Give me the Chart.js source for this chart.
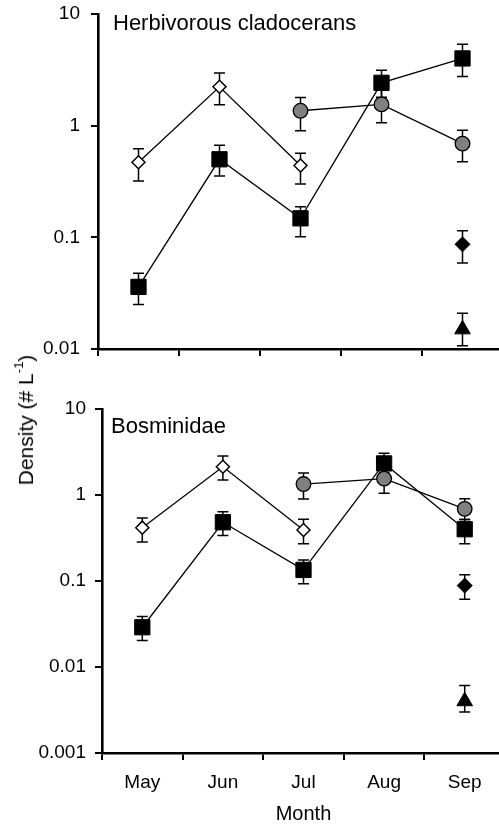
<!DOCTYPE html>
<html><head><meta charset="utf-8">
<script src="https://cdn.jsdelivr.net/npm/chart.js@4/dist/chart.umd.min.js"></script>
<style>
html,body{margin:0;padding:0;background:#fff;overflow:hidden;width:499px;height:826px;position:relative;}
#cA{position:absolute;left:0;top:0;}
#cB{position:absolute;left:0;top:380px;}
#ytitle{position:absolute;left:26px;top:420px;transform:translate(-50%,-50%) rotate(-90deg);font:21px "Liberation Sans",Arial,sans-serif;white-space:nowrap;color:#000;}
#ytitle sup{font-size:13px;position:relative;top:-2px;vertical-align:top;line-height:1;}
</style></head>
<body>
<canvas id="cA" width="503" height="380"></canvas>
<canvas id="cB" width="505" height="446"></canvas>
<div id="ytitle">Density (# L<sup>-1</sup>)</div>
<script>
const months = ['May','Jun','Jul','Aug','Sep'];
const panelTitleTop = 'Herbivorous cladocerans';
const panelTitleBottom = 'Bosminidae';
const xTitle = 'Month';
const yTicksTop = [0.01, 0.1, 1, 10];
const yLabelsTop = ['0.01', '0.1', '1', '10'];
const yTicksBottom = [0.001, 0.01, 0.1, 1, 10];
const yLabelsBottom = ['0.001', '0.01', '0.1', '1', '10'];

// Herbivorous cladocerans
const herbOpen = [0.47, 2.23, 0.44, null, null];
const herbOpenLo = [0.32, 1.54, 0.30, null, null];
const herbOpenHi = [0.62, 2.96, 0.565, null, null];
const herbSquare = [0.036, 0.50, 0.148, 2.42, 4.0];
const herbSquareLo = [0.025, 0.354, 0.101, 1.8, 2.76];
const herbSquareHi = [0.0476, 0.667, 0.188, 3.13, 5.35];
const herbCircle = [null, null, 1.36, 1.55, 0.69];
const herbCircleLo = [null, null, 0.90, 1.06, 0.475];
const herbCircleHi = [null, null, 1.79, 2.1, 0.91];
const herbDiamond = [null, null, null, null, 0.0865];
const herbDiamondLo = [null, null, null, null, 0.059];
const herbDiamondHi = [null, null, null, null, 0.1146];
const herbTriangle = [null, null, null, null, 0.015];
const herbTriangleLo = [null, null, null, null, 0.0107];
const herbTriangleHi = [null, null, null, null, 0.0209];

// Bosminidae
const bosOpen = [0.417, 2.13, 0.392, null, null];
const bosOpenLo = [0.285, 1.49, 0.272, null, null];
const bosOpenHi = [0.54, 2.84, 0.522, null, null];
const bosSquare = [0.029, 0.482, 0.1345, 2.33, 0.40];
const bosSquareLo = [0.0203, 0.337, 0.093, 1.8, 0.272];
const bosSquareHi = [0.0386, 0.64, 0.176, 3.05, 0.52];
const bosCircle = [null, null, 1.34, 1.55, 0.69];
const bosCircleLo = [null, null, 0.90, 1.05, 0.52];
const bosCircleHi = [null, null, 1.80, 2.2, 0.906];
const bosDiamond = [null, null, null, null, 0.0885];
const bosDiamondLo = [null, null, null, null, 0.0615];
const bosDiamondHi = [null, null, null, null, 0.118];
const bosTriangle = [null, null, null, null, 0.004];
const bosTriangleLo = [null, null, null, null, 0.003];
const bosTriangleHi = [null, null, null, null, 0.0061];

const FONT = '"Liberation Sans", Arial, sans-serif';

const errorBars = {
  id: 'errorBars',
  beforeDatasetsDraw(chart) {
    const ctx = chart.ctx, ys = chart.scales.y;
    chart.data.datasets.forEach((ds, di) => {
      if (!ds.errLo) return;
      const meta = chart.getDatasetMeta(di);
      ds.data.forEach((v, i) => {
        if (v == null || ds.errLo[i] == null) return;
        const x = meta.data[i].x;
        const y1 = ys.getPixelForValue(ds.errLo[i]);
        const y2 = ys.getPixelForValue(ds.errHi[i]);
        ctx.save();
        ctx.strokeStyle = '#000'; ctx.lineWidth = 1.5;
        ctx.beginPath();
        ctx.moveTo(x, y1); ctx.lineTo(x, y2);
        ctx.moveTo(x - 5.5, y1); ctx.lineTo(x + 5.5, y1);
        ctx.moveTo(x - 5.5, y2); ctx.lineTo(x + 5.5, y2);
        ctx.stroke();
        ctx.restore();
      });
    });
  }
};

const panelLabel = {
  id: 'panelLabel',
  afterDraw(chart, args, opts) {
    const ctx = chart.ctx, a = chart.chartArea;
    ctx.save();
    ctx.fillStyle = '#000';
    ctx.font = '22px ' + FONT;
    ctx.textBaseline = 'alphabetic';
    ctx.textAlign = 'left';
    ctx.fillText(opts.text, a.left + opts.dx, a.top + opts.dy);
    ctx.restore();
  }
};

function makeDatasets(o, oLo, oHi, s, sLo, sHi, c, cLo, cHi, d, dLo, dHi, t, tLo, tHi) {
  const base = {borderColor: '#000', borderWidth: 1.3, clip: false, pointHoverRadius: 0};
  return [
    Object.assign({}, base, {label: 'circle', data: c, errLo: cLo, errHi: cHi, order: 0,
      pointStyle: 'circle', pointRadius: 7.3, pointBackgroundColor: '#808080', pointBorderColor: '#000', pointBorderWidth: 1.3}),
    Object.assign({}, base, {label: 'square', data: s, errLo: sLo, errHi: sHi, order: 1,
      pointStyle: 'rect', pointRadius: 10.8, pointBackgroundColor: '#000', pointBorderColor: '#000', pointBorderWidth: 1}),
    Object.assign({}, base, {label: 'open', data: o, errLo: oLo, errHi: oHi, order: 2,
      pointStyle: 'rectRot', pointRadius: 6.5, pointBackgroundColor: '#fff', pointBorderColor: '#000', pointBorderWidth: 1.5}),
    Object.assign({}, base, {label: 'diamond', data: d, errLo: dLo, errHi: dHi, order: 3, showLine: false,
      pointStyle: 'rectRot', pointRadius: 7.5, pointBackgroundColor: '#000', pointBorderColor: '#000', pointBorderWidth: 1}),
    Object.assign({}, base, {label: 'triangle', data: t, errLo: tLo, errHi: tHi, order: 4, showLine: false,
      pointStyle: 'triangle', pointRadius: 9, pointBackgroundColor: '#000', pointBorderColor: '#000', pointBorderWidth: 1})
  ];
}

function yAxis(tv, tl, width, pad) {
  return {
    type: 'logarithmic', min: tv[0], max: tv[tv.length - 1],
    afterBuildTicks: ax => { ax.ticks = tv.map(v => ({value: v})); },
    afterFit: ax => { ax.width = width; ax.paddingTop = 0; ax.paddingBottom = 0; },
    ticks: {autoSkip: false, color: '#000', padding: pad, font: {family: FONT, size: 19},
      callback: (v, i) => tl[i]},
    grid: {drawOnChartArea: false, drawTicks: true, tickLength: 7, color: '#000', lineWidth: 2},
    border: {display: true, color: '#000', width: 2.6}
  };
}

function xAxis(showLabels, height) {
  return {
    type: 'category', labels: months, offset: true,
    afterFit: ax => { ax.height = height; ax.paddingLeft = 0; ax.paddingRight = 0; },
    ticks: {display: showLabels, color: '#000', padding: 11, font: {family: FONT, size: 19}, maxRotation: 0},
    grid: {offset: true, drawOnChartArea: false, drawTicks: true, tickLength: 7, color: '#000', lineWidth: 2},
    border: {display: true, color: '#000', width: 2.6},
    title: {display: showLabels, text: xTitle, color: '#000', font: {family: FONT, size: 20}, padding: {top: 0, bottom: 0}}
  };
}

function common(label, dx, dy) {
  return {
    responsive: false, animation: false, devicePixelRatio: 1,
    plugins: {legend: {display: false}, tooltip: {enabled: false}, panelLabel: {text: label, dx: dx, dy: dy}},
    events: []
  };
}

new Chart(document.getElementById('cA'), {
  type: 'line',
  data: {labels: months, datasets: makeDatasets(herbOpen, herbOpenLo, herbOpenHi, herbSquare, herbSquareLo, herbSquareHi,
    herbCircle, herbCircleLo, herbCircleHi, herbDiamond, herbDiamondLo, herbDiamondHi, herbTriangle, herbTriangleLo, herbTriangleHi)},
  options: Object.assign(common(panelTitleTop, 15, 16), {
    layout: {autoPadding: false, padding: {left: 0, right: 0, top: 14, bottom: 0}},
    scales: {x: xAxis(false, 31), y: yAxis(yTicksTop, yLabelsTop, 98, 11)}
  }),
  plugins: [errorBars, panelLabel]
});

new Chart(document.getElementById('cB'), {
  type: 'line',
  data: {labels: months, datasets: makeDatasets(bosOpen, bosOpenLo, bosOpenHi, bosSquare, bosSquareLo, bosSquareHi,
    bosCircle, bosCircleLo, bosCircleHi, bosDiamond, bosDiamondLo, bosDiamondHi, bosTriangle, bosTriangleLo, bosTriangleHi)},
  options: Object.assign(common(panelTitleBottom, 9, 24), {
    layout: {autoPadding: false, padding: {left: 0, right: 0, top: 29, bottom: 0}},
    scales: {x: xAxis(true, 73), y: yAxis(yTicksBottom, yLabelsBottom, 102, 9)}
  }),
  plugins: [errorBars, panelLabel]
});
</script>
</body></html>
